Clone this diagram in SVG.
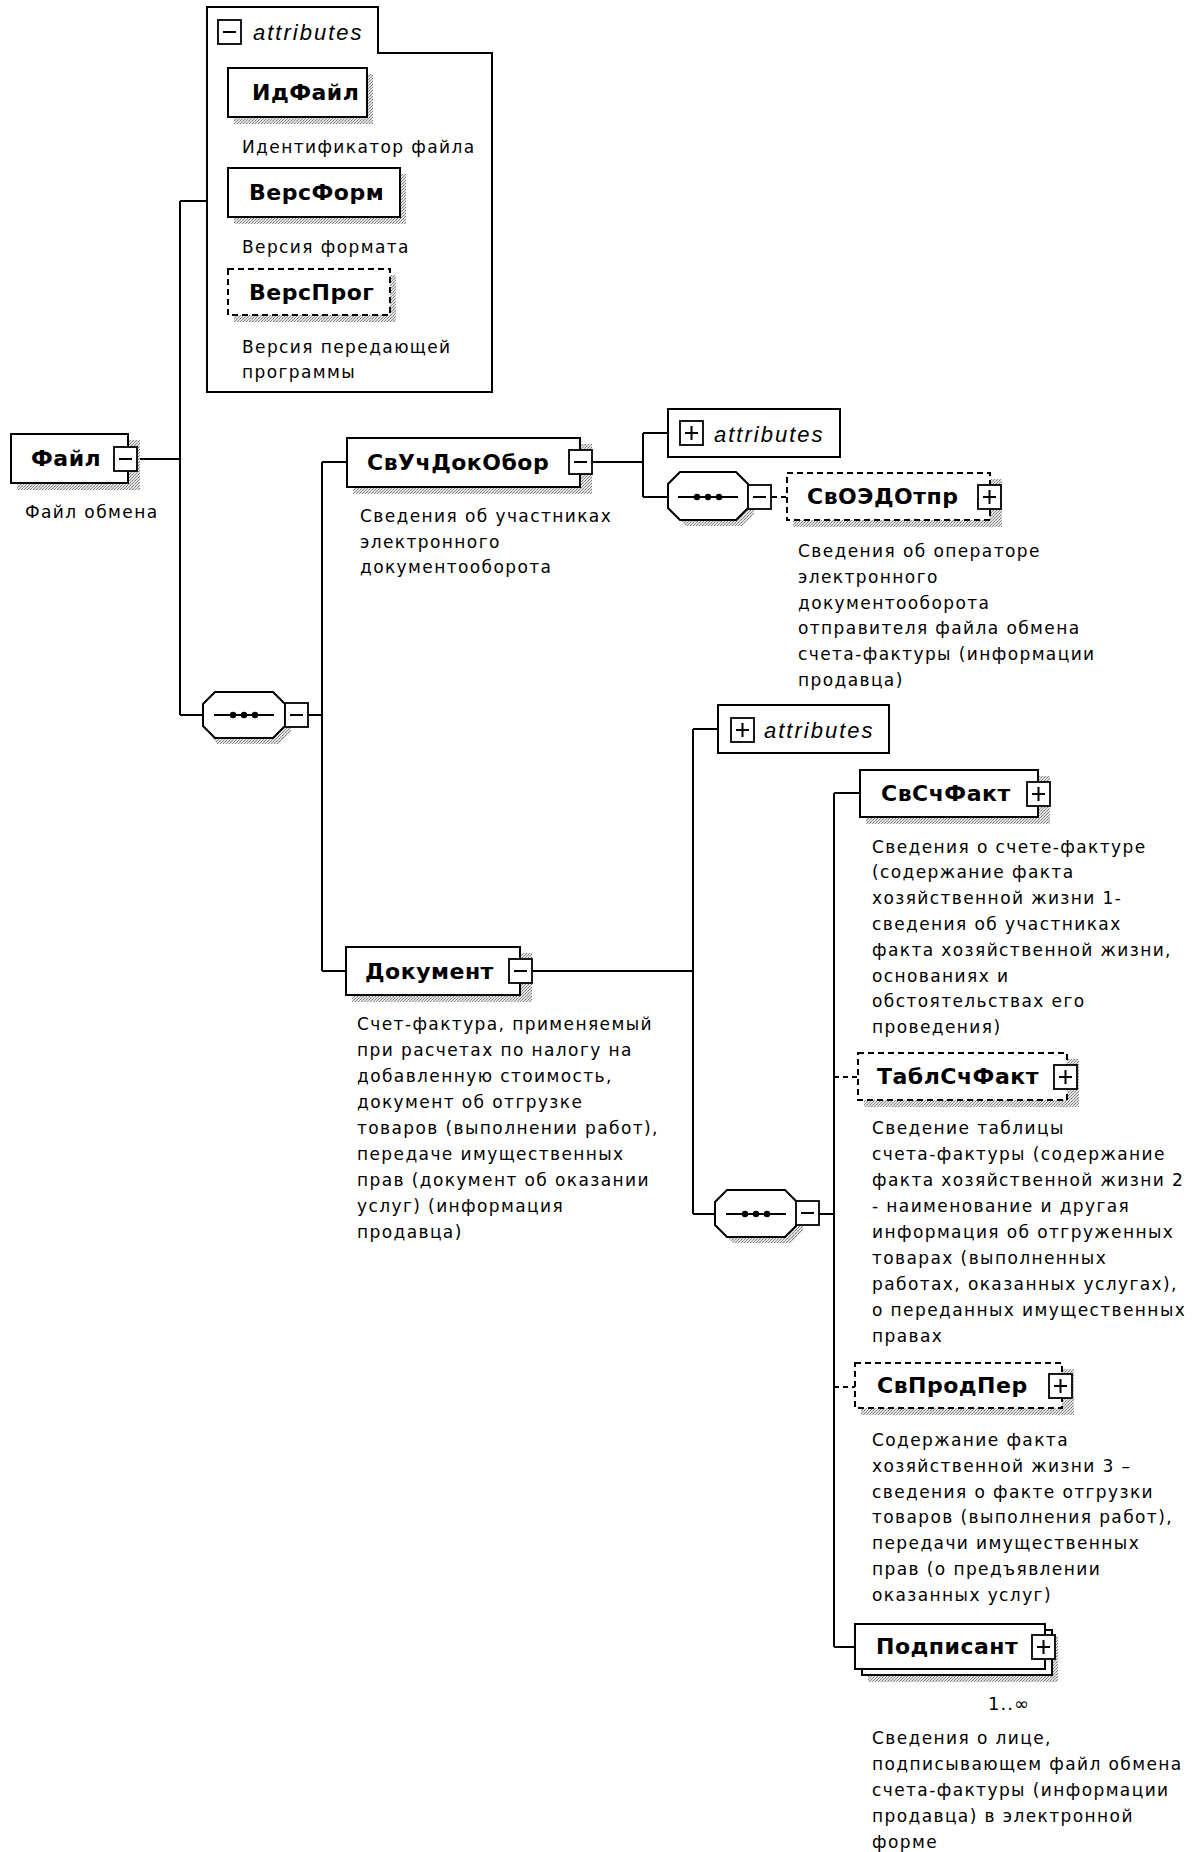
<svg xmlns="http://www.w3.org/2000/svg" xmlns:xlink="http://www.w3.org/1999/xlink" width="1193" height="1852" viewBox="0 0 1193 1852">
<defs>
<pattern id="dither" width="3" height="3" patternUnits="userSpaceOnUse">
<rect width="3" height="3" fill="#e2e2e2"/>
<rect x="0" y="0" width="1" height="1" fill="#7a7a7a"/>
<rect x="2" y="1" width="1" height="1" fill="#9a9a9a"/>
<rect x="1" y="2" width="1" height="1" fill="#8a8a8a"/>
</pattern>
<g id="minus"><rect x="0" y="0" width="23" height="24" fill="#fff" stroke="#000" stroke-width="1.8"/><line x1="5" y1="12" x2="18" y2="12" stroke="#000" stroke-width="2"/></g>
<g id="plus"><rect x="0" y="0" width="23" height="24" fill="#fff" stroke="#000" stroke-width="1.8"/><line x1="5" y1="12" x2="18" y2="12" stroke="#000" stroke-width="2"/><line x1="11.5" y1="5" x2="11.5" y2="19" stroke="#000" stroke-width="2"/></g>
<g id="seqdots"><line x1="-30" y1="0" x2="30" y2="0" stroke="#000" stroke-width="2"/><circle cx="-11" cy="0" r="3.2"/><circle cx="0" cy="0" r="3.2"/><circle cx="11" cy="0" r="3.2"/></g>
</defs>
<style>
.box{fill:#fff;stroke:#000;stroke-width:2}
.dbox{fill:#fff;stroke:#000;stroke-width:2;stroke-dasharray:6 4}
.shadow{fill:url(#dither)}
.name{font-family:"DejaVu Sans",Verdana,sans-serif;font-weight:bold;font-size:22px;letter-spacing:0.5px;fill:#000}
.desc{font-family:"DejaVu Sans",Verdana,sans-serif;font-size:17px;letter-spacing:1.4px;fill:#000}
.mult{font-family:"DejaVu Sans",Verdana,sans-serif;font-size:18px;letter-spacing:1px;fill:#000}
.attr{font-family:"Liberation Sans",Arial,sans-serif;font-style:italic;font-size:22px;letter-spacing:2px;fill:#000}
.conn{stroke:#000;stroke-width:2;fill:none}
.dconn{stroke:#000;stroke-width:2;fill:none;stroke-dasharray:5 4}
</style>
<rect width="1193" height="1852" fill="#fff"/>

<g id="connectors">
<path class="conn" d="M137,459 H180 M180,201 V715 M180,201 H207 M180,715 H203"/>
<path class="conn" d="M308,715 H322 M322,462 V971 M322,462 H347 M322,971 H346"/>
<path class="conn" d="M593,462 H643 M643,433 V497 M643,433 H668 M643,497 H668"/>
<path class="dconn" d="M772,497 H787"/>
<path class="conn" d="M532,971 H693 M693,729 V1214 M693,729 H718 M693,1214 H715"/>
<path class="conn" d="M818,1214 H834 M834,793 V1647 M834,793 H860 M834,1647 H855"/>
<path class="dconn" d="M834,1077 H858 M834,1387 H855"/>
</g>

<g id="attributes-top">
<path class="box" d="M207,7 H378 V53 H492 V392 H207 Z"/>
<use xlink:href="#minus" x="218" y="20"/>
<text class="attr" x="253" y="40">attributes</text>
</g>

<g id="node-IdFajl">
<rect class="shadow" x="234" y="74" width="139" height="50"/>
<rect class="box" x="228" y="68" width="139" height="49"/>
<text class="name" x="252" y="100">ИдФайл</text>
<text class="desc" x="242" y="153">Идентификатор файла</text>
</g>

<g id="node-VersForm">
<rect class="shadow" x="234" y="174" width="172" height="50"/>
<rect class="box" x="228" y="168" width="172" height="49"/>
<text class="name" x="249" y="200">ВерсФорм</text>
<text class="desc" x="242" y="253">Версия формата</text>
</g>

<g id="node-VersProg">
<rect class="shadow" x="234" y="275" width="162" height="47"/>
<rect class="dbox" x="228" y="269" width="162" height="46"/>
<text class="name" x="249" y="300">ВерсПрог</text>
<text class="desc" x="242" y="353">Версия передающей</text>
<text class="desc" x="242" y="378">программы</text>
</g>

<g id="node-Fajl">
<rect class="shadow" x="17" y="440" width="123" height="50"/>
<rect class="box" x="11" y="434" width="117" height="49"/>
<use xlink:href="#minus" x="114" y="447"/>
<text class="name" x="31" y="466">Файл</text>
<text class="desc" x="25" y="518">Файл обмена</text>
</g>

<g id="seq-1">
<polygon class="shadow" points="217,698 279,698 291,710 291,732 279,744 217,744 209,732 209,710"/>
<polygon class="box" points="215,692 273,692 285,704 285,726 273,738 215,738 203,726 203,704"/>
<use xlink:href="#seqdots" x="244" y="715"/>
<use xlink:href="#minus" x="285" y="703"/>
</g>

<g id="node-SvUchDokObor">
<rect class="shadow" x="353" y="444" width="239" height="50"/>
<rect class="box" x="347" y="438" width="233" height="49"/>
<use xlink:href="#minus" x="569" y="450"/>
<text class="name" x="367" y="470">СвУчДокОбор</text>
<text class="desc" x="360" y="522">Сведения об участниках</text>
<text class="desc" x="360" y="547.5">электронного</text>
<text class="desc" x="360" y="573">документооборота</text>
</g>

<g id="attributes-SvUchDokObor">
<rect class="box" x="668" y="409" width="172" height="48"/>
<use xlink:href="#plus" x="680" y="421"/>
<text class="attr" x="714" y="442">attributes</text>
</g>

<g id="seq-2">
<polygon class="shadow" points="686,478 742,478 754,490 754,514 742,526 686,526 674,514 674,490"/>
<polygon class="box" points="680,472 736,472 748,484 748,508 736,520 680,520 668,508 668,484"/>
<use xlink:href="#seqdots" x="708" y="497"/>
<use xlink:href="#minus" x="748" y="485"/>
</g>

<g id="node-SvOEDOtpr">
<rect class="shadow" x="793" y="479" width="209" height="48"/>
<rect class="dbox" x="787" y="473" width="203" height="47"/>
<use xlink:href="#plus" x="978" y="485"/>
<text class="name" x="807" y="504">СвОЭДОтпр</text>
<text class="desc" x="798" y="557">Сведения об операторе</text>
<text class="desc" x="798" y="582.8">электронного</text>
<text class="desc" x="798" y="608.6">документооборота</text>
<text class="desc" x="798" y="634.4">отправителя файла обмена</text>
<text class="desc" x="798" y="660.2">счета-фактуры (информации</text>
<text class="desc" x="798" y="686">продавца)</text>
</g>

<g id="node-Dokument">
<rect class="shadow" x="352" y="953" width="180" height="49"/>
<rect class="box" x="346" y="947" width="174" height="48"/>
<use xlink:href="#minus" x="509" y="959"/>
<text class="name" x="365" y="979">Документ</text>
<text class="desc" x="357" y="1030">Счет-фактура, применяемый</text>
<text class="desc" x="357" y="1056">при расчетах по налогу на</text>
<text class="desc" x="357" y="1082">добавленную стоимость,</text>
<text class="desc" x="357" y="1108">документ об отгрузке</text>
<text class="desc" x="357" y="1134">товаров (выполнении работ),</text>
<text class="desc" x="357" y="1160">передаче имущественных</text>
<text class="desc" x="357" y="1186">прав (документ об оказании</text>
<text class="desc" x="357" y="1212">услуг) (информация</text>
<text class="desc" x="357" y="1238">продавца)</text>
</g>

<g id="attributes-Dokument">
<rect class="box" x="718" y="705" width="171" height="48"/>
<use xlink:href="#plus" x="731" y="718"/>
<text class="attr" x="764" y="738">attributes</text>
</g>

<g id="seq-3">
<polygon class="shadow" points="733,1196 791,1196 803,1208 803,1231 791,1243 733,1243 721,1231 721,1208"/>
<polygon class="box" points="727,1190 785,1190 797,1202 797,1225 785,1237 727,1237 715,1225 715,1202"/>
<use xlink:href="#seqdots" x="756" y="1214"/>
<use xlink:href="#minus" x="796" y="1201"/>
</g>

<g id="node-SvSchFakt">
<rect class="shadow" x="866" y="776" width="184" height="48"/>
<rect class="box" x="860" y="770" width="178" height="47"/>
<use xlink:href="#plus" x="1027" y="782"/>
<text class="name" x="881" y="801">СвСчФакт</text>
<text class="desc" x="872" y="852.5">Сведения о счете-фактуре</text>
<text class="desc" x="872" y="878.3">(содержание факта</text>
<text class="desc" x="872" y="904.1">хозяйственной жизни 1-</text>
<text class="desc" x="872" y="929.9">сведения об участниках</text>
<text class="desc" x="872" y="955.7">факта хозяйственной жизни,</text>
<text class="desc" x="872" y="981.5">основаниях и</text>
<text class="desc" x="872" y="1007.3">обстоятельствах его</text>
<text class="desc" x="872" y="1033.1">проведения)</text>
</g>

<g id="node-TablSchFakt">
<rect class="shadow" x="864" y="1059" width="215" height="48"/>
<rect class="dbox" x="858" y="1053" width="209" height="47"/>
<use xlink:href="#plus" x="1054" y="1065"/>
<text class="name" x="877" y="1084">ТаблСчФакт</text>
<text class="desc" x="872" y="1134">Сведение таблицы</text>
<text class="desc" x="872" y="1160">счета-фактуры (содержание</text>
<text class="desc" x="872" y="1186">факта хозяйственной жизни 2</text>
<text class="desc" x="872" y="1212">- наименование и другая</text>
<text class="desc" x="872" y="1238">информация об отгруженных</text>
<text class="desc" x="872" y="1264">товарах (выполненных</text>
<text class="desc" x="872" y="1290">работах, оказанных услугах),</text>
<text class="desc" x="872" y="1316">о переданных имущественных</text>
<text class="desc" x="872" y="1342">правах</text>
</g>

<g id="node-SvProdPer">
<rect class="shadow" x="861" y="1369" width="213" height="46"/>
<rect class="dbox" x="855" y="1363" width="207" height="45"/>
<use xlink:href="#plus" x="1049" y="1374"/>
<text class="name" x="877" y="1393">СвПродПер</text>
<text class="desc" x="872" y="1446">Содержание факта</text>
<text class="desc" x="872" y="1471.8">хозяйственной жизни 3 –</text>
<text class="desc" x="872" y="1497.6">сведения о факте отгрузки</text>
<text class="desc" x="872" y="1523.4">товаров (выполнения работ),</text>
<text class="desc" x="872" y="1549.2">передачи имущественных</text>
<text class="desc" x="872" y="1575">прав (о предъявлении</text>
<text class="desc" x="872" y="1600.8">оказанных услуг)</text>
</g>

<g id="node-Podpisant">
<rect class="shadow" x="868" y="1636" width="190" height="46"/>
<rect class="box" x="862" y="1630" width="190" height="45"/>
<rect class="box" x="855" y="1624" width="190" height="45"/>
<use xlink:href="#plus" x="1032" y="1635"/>
<text class="name" x="876" y="1654">Подписант</text>
<text class="mult" x="988" y="1710">1..∞</text>
<text class="desc" x="872" y="1744">Сведения о лице,</text>
<text class="desc" x="872" y="1770">подписывающем файл обмена</text>
<text class="desc" x="872" y="1796">счета-фактуры (информации</text>
<text class="desc" x="872" y="1822">продавца) в электронной</text>
<text class="desc" x="872" y="1848">форме</text>
</g>
</svg>
